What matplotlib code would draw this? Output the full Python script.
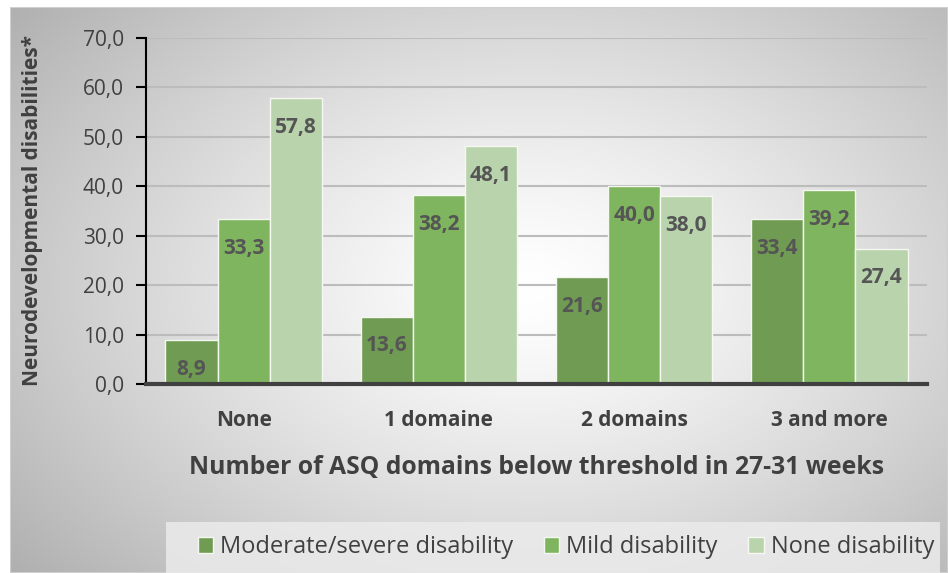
import numpy as np
import matplotlib.pyplot as plt
from matplotlib.patches import Rectangle

categories = ["None", "1 domaine", "2 domains", "3 and more"]
moderate = [8.9, 13.6, 21.6, 33.4]
mild = [33.3, 38.2, 40.0, 39.2]
none_dis = [57.8, 48.1, 38.0, 27.4]
series_names = ["Moderate/severe disability", "Mild disability", "None disability"]
colors = ["#6f9b52", "#80b55f", "#b9d3ad"]

plt.rcParams['font.family'] = ['Open Sans', 'DejaVu Sans']
txt = "#404040"

fig = plt.figure(figsize=(9.48, 5.73), dpi=100)

# gradient background frame
bg = fig.add_axes([10 / 948, 0, 938 / 948, 1 - 7 / 573], zorder=-2)
h, w = 566, 938
yy, xx = np.mgrid[0:h, 0:w]
r = np.sqrt(((xx - 520) / 600.0) ** 2 + ((yy - 280) / 400.0) ** 2)
val = np.clip(1.0 - 0.27 * np.clip(r, 0, 1.3) ** 1.3, 0, 1)
bg.imshow(np.dstack([val, val, val]), aspect='auto', extent=(0, w, h, 0))
bg.set_xlim(0, w)
bg.set_ylim(h, 0)
bg.axis('off')
bg.add_patch(Rectangle((0, 0), w, h, fill=False, edgecolor="#cfcfcf", lw=1.5))

ax = fig.add_axes([146 / 948, 1 - 384 / 573, 781 / 948, 346 / 573])
ax.patch.set_alpha(0)

x = np.arange(len(categories))
bw = 0.267
for i, (vals, name, c) in enumerate(zip([moderate, mild, none_dis], series_names, colors)):
    bars = ax.bar(x + (i - 1) * bw, vals, bw, color=c, edgecolor="#f4f8f1",
                  linewidth=1, label=name, zorder=3)
    for b, v in zip(bars, vals):
        ax.annotate(f"{v:.1f}".replace(".", ","), (b.get_x() + b.get_width() / 2, v),
                    xytext=(0, -21), textcoords='offset points', ha='center', va='center',
                    fontsize=15, fontweight='bold', color="#555555", zorder=4)

ax.set_xlim(-0.5, 3.5)
ax.set_ylim(0, 70)
ax.set_yticks(np.arange(0, 71, 10))
ax.set_yticklabels([f"{t:.1f}".replace(".", ",") for t in np.arange(0, 71, 10)])
ax.yaxis.grid(True, color="#bcbcbc", lw=1.5, zorder=0)
ax.set_axisbelow(True)
ax.set_xticks(x)
ax.set_xticklabels(categories, fontsize=15, fontweight='bold', color=txt)
ax.tick_params(axis='x', length=0, pad=19)
ax.tick_params(axis='y', length=7, width=1.5, color='black', labelsize=15, labelcolor=txt, pad=9)
for s in ['top', 'right']:
    ax.spines[s].set_visible(False)
ax.spines['left'].set_color('black')
ax.spines['left'].set_linewidth(1.5)
ax.spines['bottom'].set_color('#404040')
ax.spines['bottom'].set_linewidth(3)
ax.spines['bottom'].set_zorder(5)

ax.set_xlabel("Number of ASQ domains below threshold in 27-31 weeks", fontsize=17.8,
              fontweight='bold', color=txt, labelpad=17)
ax.set_ylabel("Neurodevelopmental disabilities*", fontsize=15, fontweight='bold',
              color=txt)
ax.yaxis.set_label_coords(-0.132, 0.5)

# legend box
fig.patches.append(Rectangle((166 / 948, 0), (940 - 166) / 948, 51 / 573,
                             transform=fig.transFigure, facecolor="#ebebeb",
                             edgecolor='none', alpha=0.85, zorder=-1))
leg = fig.legend(loc='center', bbox_to_anchor=(566 / 948, 1 - 547 / 573), ncol=3,
                 frameon=False, fontsize=17, handlelength=0.65, handleheight=0.65,
                 handletextpad=0.3, columnspacing=1.3)
for t in leg.get_texts():
    t.set_color(txt)

fig.savefig("out.png", dpi=100)
